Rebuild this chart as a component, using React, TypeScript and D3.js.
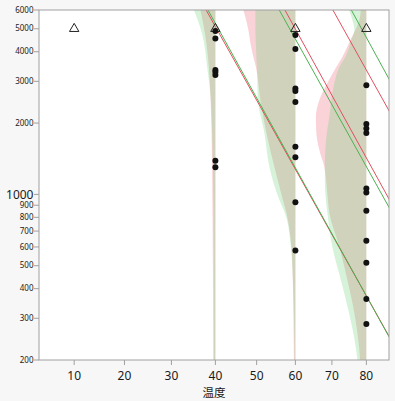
import React from "react";
import * as d3 from "d3";

// ---- data ----
const xTicks = [10, 20, 30, 40, 50, 60, 70, 80];
const yTicks = [200, 300, 400, 500, 600, 700, 800, 900, 1000, 2000, 3000, 4000, 5000, 6000];
const xTitle = "温度";

// failure times (hours) at each temperature
const failTemps = [40, 60, 80];
const fail40 = [4892, 4548, 3348, 3284, 3190, 1387, 1301];
const fail60 = [4706, 4106, 2797, 2729, 2453, 1589, 1433, 926, 580];
const fail80 = [2886, 1981, 1897, 1815, 1058, 1018, 853, 637, 515, 362, 284];

// censored (right-censored) units
const censTemps = [10, 40, 60, 80];
const censValue = 5000;

// quantile lines: value at 40°C and at 80°C
const redQuantiles = [
  [5106, 373],
  [20460, 1426],
  [46600, 3348],
];
const greenQuantiles = [
  [5263, 373],
  [18300, 1310],
  [67380, 4593],
];

// density profiles: [time, red density, green density] (relative units)
const dens40 = [
  [6000, 0.15, 0.215],
  [4798, 0.105, 0.135],
  [3447, 0.065, 0.082],
  [2502, 0.048, 0.045],
  [1815, 0.038, 0.032],
  [947, 0.03, 0.02],
  [500, 0.025, 0.016],
  [200, 0.022, 0.014],
];
const dens60 = [
  [6000, 0.52, 0.4],
  [4940, 0.47, 0.4],
  [4352, 0.45, 0.395],
  [3798, 0.42, 0.39],
  [3447, 0.395, 0.385],
  [2502, 0.35, 0.375],
  [1815, 0.29, 0.31],
  [1305, 0.21, 0.26],
  [947, 0.125, 0.16],
  [834, 0.09, 0.105],
  [599, 0.04, 0.045],
  [435, 0.026, 0.024],
  [316, 0.02, 0.015],
  [200, 0.015, 0.008],
];
const dens80 = [
  [6000, 0.056, 0.173],
  [5444, 0.07, 0.14],
  [4940, 0.11, 0.12],
  [4481, 0.16, 0.15],
  [3798, 0.24, 0.21],
  [3447, 0.3, 0.27],
  [2950, 0.39, 0.32],
  [2502, 0.47, 0.35],
  [2121, 0.505, 0.37],
  [1815, 0.5, 0.395],
  [1539, 0.47, 0.41],
  [1305, 0.42, 0.415],
  [1117, 0.4, 0.415],
  [947, 0.385, 0.405],
  [834, 0.37, 0.39],
  [599, 0.27, 0.34],
  [435, 0.19, 0.255],
  [316, 0.12, 0.173],
  [227, 0.073, 0.106],
  [200, 0.063, 0.09],
];
const densByTemp = [dens40, dens60, dens80];

// ---- layout ----
const W = 395;
const H = 401;
const L = 39, R = 389, T = 10, B = 360;
const X_MIN = 3.4, X_MAX = 86.9;
const Y_MIN = 200, Y_MAX = 6000;

const toU = (t: number) => 1 / (t + 273.15);
const xLin = d3.scaleLinear().domain([toU(X_MIN), toU(X_MAX)]).range([L, R]);
const x = (t: number) => xLin(toU(t));
const y = d3.scaleLog().domain([Y_MIN, Y_MAX]).range([B, T]);
const wScale = d3.scaleLinear().domain([0, 1]).range([0, 100]);

const RED = "#e0505f";
const GREEN = "#4cb050";
const RED_FILL = "#e8606e";
const GREEN_FILL = "#5ccf6a";

function quantileEnds(q: number[]) {
  const s = d3.scaleLinear().domain([toU(40), toU(80)]).range([Math.log10(q[0]), Math.log10(q[1])]);
  const t0 = X_MIN - 2, t1 = X_MAX + 2;
  return [
    [x(t0), y(Math.pow(10, s(toU(t0))))],
    [x(t1), y(Math.pow(10, s(toU(t1))))],
  ];
}

export default function App() {
  const fails = [fail40, fail60, fail80];
  const tri = d3.symbol().type(d3.symbolTriangle).size(38)();
  const font = "'Noto Sans', 'Open Sans', sans-serif";

  const densPaths = densByTemp.map((dens, i) => {
    const base = x(failTemps[i]);
    const mk = (k: number) =>
      d3
        .area<number[]>()
        .y((d) => y(d[0]))
        .x0(base)
        .x1((d) => base - wScale(d[k]))
        .curve(d3.curveMonotoneY)(dens as number[][]) || "";
    return { red: mk(1), green: mk(2) };
  });

  return (
    <svg
      width={W}
      height={H}
      style={{ position: "absolute", left: 0, top: 0, background: "#f7f7f7" }}
    >
      <defs>
        <clipPath id="plotclip">
          <rect x={L} y={T} width={R - L} height={B - T} />
        </clipPath>
      </defs>
      <rect x={L} y={T} width={R - L} height={B - T} fill="#ffffff" />
      <g clipPath="url(#plotclip)">
        {densPaths.map((p, i) => (
          <g key={i}>
            <path d={p.red} fill={RED_FILL} fillOpacity={0.28} />
            <path d={p.green} fill={GREEN_FILL} fillOpacity={0.25} />
          </g>
        ))}
        {redQuantiles.map((q, i) => {
          const e = quantileEnds(q);
          return <line key={"r" + i} x1={e[0][0]} y1={e[0][1]} x2={e[1][0]} y2={e[1][1]} stroke={RED} strokeWidth={1} />;
        })}
        {greenQuantiles.map((q, i) => {
          const e = quantileEnds(q);
          return <line key={"g" + i} x1={e[0][0]} y1={e[0][1]} x2={e[1][0]} y2={e[1][1]} stroke={GREEN} strokeWidth={1} />;
        })}
        {censTemps.map((t, i) => (
          <path key={"c" + i} d={tri} transform={`translate(${x(t)},${y(censValue)})`} fill="none" stroke="#222" strokeWidth={1} />
        ))}
        {fails.map((arr, i) =>
          arr.map((v, j) => <circle key={i + "-" + j} cx={x(failTemps[i])} cy={y(v)} r={3} fill="#111" />)
        )}
      </g>
      {/* frame */}
      <rect x={L} y={T} width={R - L} height={B - T} fill="none" stroke="#a0a0a0" strokeWidth={1} />
      {/* y axis */}
      {yTicks.map((v) => (
        <g key={"y" + v}>
          <line x1={L - 5} x2={L} y1={y(v)} y2={y(v)} stroke="#a0a0a0" />
          <text
            x={L - 5.5}
            y={y(v)}
            dy={v === 1000 ? "0.36em" : "0.34em"}
            textAnchor="end"
            fontSize={v === 1000 ? 12 : 8}
            fontFamily={font}
            fill="#1a1a1a"
          >
            {v}
          </text>
        </g>
      ))}
      {/* x axis */}
      {xTicks.map((t) => (
        <g key={"x" + t}>
          <line x1={x(t)} x2={x(t)} y1={B} y2={B + 5} stroke="#a0a0a0" />
          <text x={x(t)} y={B + 20} textAnchor="middle" fontSize={12} fontFamily={font} fill="#1a1a1a">
            {t}
          </text>
        </g>
      ))}
      <text
        x={(L + R) / 2}
        y={397}
        textAnchor="middle"
        fontSize={11.5}
        fontFamily="'Noto Sans CJK SC', sans-serif"
        fill="#1a1a1a"
      >
        {xTitle}
      </text>
    </svg>
  );
}
